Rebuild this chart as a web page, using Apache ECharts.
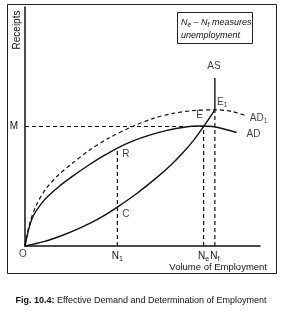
<!DOCTYPE html>
<html>
<head>
<meta charset="utf-8">
<script src="https://cdn.jsdelivr.net/npm/echarts@6/dist/echarts.min.js"></script>
<style>
html,body{margin:0;padding:0;background:#fff;}
#chart{width:281px;height:311px;}
</style>
</head>
<body>
<div id="chart"></div>
<script>
// ---- data (employment on x, receipts on y; both 0..100 scale) ----
var asCurve = [[0,0],[8,1.8],[16,4.5],[24,7.8],[32,11.8],[39.3,16.3],[48,22.3],[56,28.6],[62,33.8],[67,38.8],[72,44.5],[76,50],[80.8,57]];
var asVertical = [[80.8,57],[80.8,70.3]];
var adCurve = [[0,0],[3,11.5],[8,19],[14,24.5],[20,29],[27,33.8],[33,37.5],[39.3,41],[46,44],[53,46.4],[60,48.3],[67,49.6],[74,50.2],[81,49.8],[90,47.5]];
var ad1Curve = [[0,0],[2,9.5],[5,17.5],[9,24],[14,29.5],[20,34.5],[27,39.8],[35,44.8],[45.7,50],[55,53.5],[63,55.5],[72,56.7],[81,57],[88,56.3],[94.4,54.4]];
var guideM  = [[0,50],[76,50]];
var guideNe = [[76,0],[76,50]];
var guideNf = [[80.8,0],[80.8,57]];
var guideN1 = [[39.3,0],[39.3,41]];
var xTickValues = [39.3, 76, 80.8];
var xTickLabels = ['N{s|1}', 'N{s|e}', 'N{s|f}'];
var yTickValues = [50];
var yTickLabels = ['M'];
var pointNames = ['R', 'C', 'E', 'E{s|1}', 'AS', 'AD{s|1}', 'AD', 'O'];
var pointXs    = [39.3, 39.3, 76, 80.8, 80.8, 94.4, 90, 0];
var pointYs    = [41, 16.3, 50, 57, 70.3, 54.4, 47.5, 0];

var FONT = "'Liberation Sans Narrow','Liberation Sans',Arial,sans-serif";
var sub = {s:{fontSize:7, verticalAlign:'bottom', padding:[6,0,0,0], fontFamily:FONT, color:'#111'}};
var labelPos = {
  'R': ['right',[0,6]], 'C': ['right',[0,7]], 'E': ['top',[-4,-1]], 'E{s|1}': ['right',[-3,-8]],
  'AS': ['top',[-1,-2]], 'AD{s|1}': ['right',[-2,2]], 'AD': ['right',[5,2]], 'O': ['bottom',[-2,-2]]
};

var chart = echarts.init(document.getElementById('chart'), null, {renderer:'canvas'});
var black = '#111';
function lineSeries(data, dashed, smooth){
  return {type:'line', data:data, smooth:smooth, showSymbol:false, symbol:'none', silent:true,
    lineStyle:{color:black, width:dashed?1.2:1.4, type:dashed?[4,3]:'solid'}, z:3, animation:false};
}
var labelData = pointNames.map(function(n,i){
  return {value:[pointXs[i], pointYs[i]], label:{show:true, formatter:n, position:labelPos[n][0], offset:labelPos[n][1]}};
});
var option = {
  backgroundColor:'#fff',
  animation:false,
  grid:{left:25, right:21, top:7, bottom:65},
  xAxis:{type:'value', min:0, max:100, splitLine:{show:false},
    axisLine:{lineStyle:{color:black, width:1.5}}, axisTick:{show:false},
    axisLabel:{customValues:xTickValues, margin:4, color:black, fontSize:10, fontFamily:FONT,
      formatter:function(v){ var i=xTickValues.indexOf(v); return i>=0?xTickLabels[i]:''; }, rich:sub}},
  yAxis:{type:'value', min:0, max:100, splitLine:{show:false},
    axisLine:{lineStyle:{color:black, width:1.5}}, axisTick:{show:false},
    axisLabel:{customValues:yTickValues, margin:7, color:black, fontSize:10, fontFamily:FONT,
      formatter:function(v){ var i=yTickValues.indexOf(v); return i>=0?yTickLabels[i]:''; }}},
  series:[
    lineSeries(guideM, true, false),
    lineSeries(guideNe, true, false),
    lineSeries(guideNf, true, false),
    lineSeries(guideN1, true, false),
    lineSeries(ad1Curve, true, 0.3),
    lineSeries(adCurve, false, 0.3),
    lineSeries(asCurve, false, 0.3),
    lineSeries(asVertical, false, false),
    {type:'scatter', data:labelData, symbolSize:0, silent:true, z:5,
      label:{color:black, fontSize:10, fontFamily:FONT, rich:sub}}
  ],
  graphic:[
    {type:'rect', shape:{x:7.5, y:4.5, width:269, height:269}, style:{fill:null, stroke:'#222', lineWidth:1}, silent:true},
    {type:'rect', shape:{x:177.5, y:12.5, width:75, height:31}, style:{fill:null, stroke:'#222', lineWidth:1}, silent:true},
    {type:'text', x:181, y:22, style:{text:'N{s|e} – N{s|f} measures', font:'italic 9px '+FONT, fill:black, verticalAlign:'middle',
      rich:{s:{fontSize:6.5, fontStyle:'italic', fontFamily:FONT, verticalAlign:'bottom', padding:[6,0,0,0]}}}},
    {type:'text', x:181, y:35, style:{text:'unemployment', font:'italic 9px '+FONT, fill:black, verticalAlign:'middle'}},
    {type:'text', x:17, y:30, rotation:Math.PI/2, style:{text:'Receipts', font:'10px '+FONT, fill:black, align:'center', verticalAlign:'middle'}},
    {type:'text', x:267, y:267, style:{text:'Volume of Employment', font:'9.5px '+FONT, fill:black, align:'right', verticalAlign:'middle'}},
    {type:'text', x:141, y:301, style:{text:'{b|Fig. 10.4:} Effective Demand and Determination of Employment', font:'9px '+FONT, fill:black, align:'center', verticalAlign:'middle',
      rich:{b:{fontWeight:'bold', fontSize:9, fontFamily:FONT}}}}
  ]
};
chart.setOption(option);
</script>
</body>
</html>
